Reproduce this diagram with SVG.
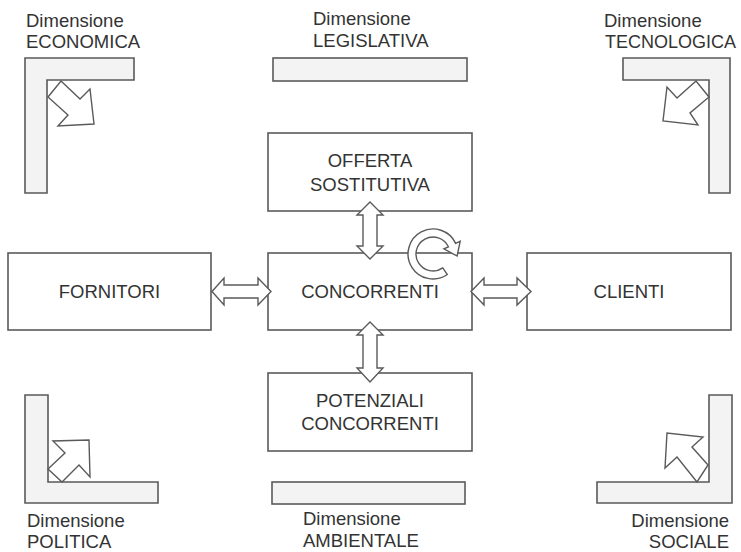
<svg xmlns="http://www.w3.org/2000/svg" width="741" height="552" viewBox="0 0 741 552">
<style>
.box{fill:#fff;stroke:#5a5a5a;stroke-width:1.6}
.dim{fill:#f2f3f2;stroke:#5a5a5a;stroke-width:1.6;stroke-linejoin:miter}
.arr{fill:#fff;stroke:#5a5a5a;stroke-width:1.4;stroke-linejoin:miter}
text{font-family:"Liberation Sans",Arial,sans-serif;font-size:18.5px;fill:#333}
.c{text-anchor:middle}
.r{text-anchor:end}
</style>
<rect width="741" height="552" fill="#fff"/>
<g id="dim-economica">
<polygon class="dim" points="25,58 134,58 134,80 47,80 47,193 25,193"/>
<polygon class="arr" points="61,81 80,99 90,89 94,124 58,126 68,115 48,97"/>
<text x="26" y="27">Dimensione</text><text x="26" y="48">ECONOMICA</text>
</g>
<g id="dim-legislativa">
<rect class="dim" x="273" y="58" width="194" height="23"/>
<text x="313" y="25">Dimensione</text><text x="313" y="47">LEGISLATIVA</text>
</g>
<g id="dim-tecnologica">
<polygon class="dim" points="623,58 730,58 730,193 709,193 709,80 623,80"/>
<polygon class="arr" points="696,81 677,98 667,87 663,121 698,125 690,113 709,97"/>
<text x="604" y="27">Dimensione</text><text x="605" y="48" textLength="131" lengthAdjust="spacingAndGlyphs">TECNOLOGICA</text>
</g>
<g id="dim-politica">
<polygon class="dim" points="25,395 48,395 48,482 158,482 158,503 25,503"/>
<polygon class="arr" points="48,469 65,453 53,441 89,440 90,477 79,465 62,482"/>
<text x="27" y="527">Dimensione</text><text x="27" y="548">POLITICA</text>
</g>
<g id="dim-ambientale">
<rect class="dim" x="272" y="482" width="193" height="22"/>
<text x="303" y="525">Dimensione</text><text x="303" y="547">AMBIENTALE</text>
</g>
<g id="dim-sociale">
<polygon class="dim" points="709,395 732,395 732,503 597,503 597,482 709,482"/>
<polygon class="arr" points="708,465 692,447 703,437 667,433 665,468 677,457 697,482"/>
<text class="r" x="729" y="527">Dimensione</text><text class="r" x="729" y="548">SOCIALE</text>
</g>
<g id="offerta">
<rect class="box" x="268" y="133" width="204" height="78"/>
<text class="c" x="370" y="167">OFFERTA</text><text class="c" x="370" y="191">SOSTITUTIVA</text>
</g>
<g id="concorrenti">
<rect class="box" x="268" y="253" width="204" height="77"/>
<text class="c" x="370" y="298">CONCORRENTI</text>
</g>
<g id="potenziali">
<rect class="box" x="268" y="373" width="204" height="78"/>
<text class="c" x="370" y="407">POTENZIALI</text><text class="c" x="370" y="430">CONCORRENTI</text>
</g>
<g id="fornitori">
<rect class="box" x="8" y="253" width="203" height="77"/>
<text class="c" x="109.5" y="298">FORNITORI</text>
</g>
<g id="clienti">
<rect class="box" x="527" y="253" width="204" height="77"/>
<text class="c" x="629" y="298">CLIENTI</text>
</g>
<g id="connectors">
<polygon class="arr" points="370,202 383,215 377,215 377,246 383,246 370,259 357,246 363,246 363,215 357,215"/>
<polygon class="arr" points="370,322 383,335 377,335 377,368 383,368 370,382 357,368 363,368 363,335 357,335"/>
<polygon class="arr" points="212,291.5 224,278 224,285 258,285 258,278 271,291.5 258,305 258,298 224,298 224,305"/>
<polygon class="arr" points="471,291.5 484,278 484,285 517,285 517,278 531,291.5 517,305 517,298 484,298 484,305"/>
<path class="arr" d="M447.3,274.5 A25,25 0 1 1 455.7,243.4 L460.2,241.3 L457.1,256 L443.9,248.9 L448.4,246.8 A17,17 0 1 0 442.8,267.9 Z"/>
</g>
</svg>
